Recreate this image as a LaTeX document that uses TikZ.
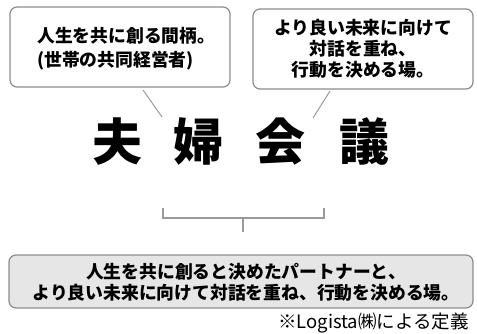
\documentclass[tikz,border=0pt]{standalone}
\usepackage{fontspec}
\setmainfont{Noto Sans CJK JP}
\definecolor{boxgray}{HTML}{8C8C8C}
\definecolor{linegray}{HTML}{9A9A9A}
\definecolor{fillgray}{HTML}{E6E6E6}
\begin{document}
\begin{tikzpicture}[x=1pt,y=-1pt,
  bubble/.style={draw=boxgray, line width=1.2pt, rounded corners=7pt, fill=white, inner sep=0pt},
  btext/.style={font=\bfseries\fontsize{17.8}{21}\selectfont, align=center, inner sep=0pt},
  link/.style={draw=linegray, line width=1pt},
  bigtitle/.style={font=\bfseries\fontsize{50}{52}\selectfont, inner sep=0pt},
  note/.style={font=\fontsize{18.5}{20}\selectfont, inner sep=0pt}
]
\useasboundingbox (0,0) rectangle (477,334);
\node[bubble, minimum width=220pt, minimum height=80pt] (b1) at (120,47) {};
\node[btext, font=\bfseries\fontsize{17.8}{24}\selectfont, align=left, anchor=west] (t1) at (37,49) {人生を共に創る間柄。\\(世帯の共同経営者)};
\node[bubble, minimum width=220pt, minimum height=80pt] (b2) at (363,49) {};
\node[btext] (t2) at (363,49) {より良い未来に向けて\\対話を重ね、\\行動を決める場。};
\coordinate (l1a) at (143,90);
\coordinate (l1b) at (162,117);
\coordinate (l2a) at (330,91);
\coordinate (l2b) at (313,118);
\draw[link] (l1a) -- (l1b);
\draw[link] (l2a) -- (l2b);
\node[bigtitle] (title) at (241,142) {夫\hspace{32pt}婦\hspace{32pt}会\hspace{34pt}議};
\coordinate (br1) at (163,208);
\coordinate (br2) at (324,208);
\coordinate (brm) at (243,218);
\coordinate (brs) at (243,232);
\draw[link, line width=1.2pt] (br1) |- (brm) -| (br2);
\draw[link, line width=1.2pt] (brm) -- (brs);
\node[bubble, fill=fillgray, minimum width=464pt, minimum height=53pt] (b3) at (241,281.5) {};
\node[btext] (t3) at (246,282) {人生を共に創ると決めたパートナーと、\\より良い未来に向けて対話を重ね、行動を決める場。};
\node[note, anchor=east] (n) at (469,323) {※Logista㈱による定義};
\end{tikzpicture}
\end{document}
